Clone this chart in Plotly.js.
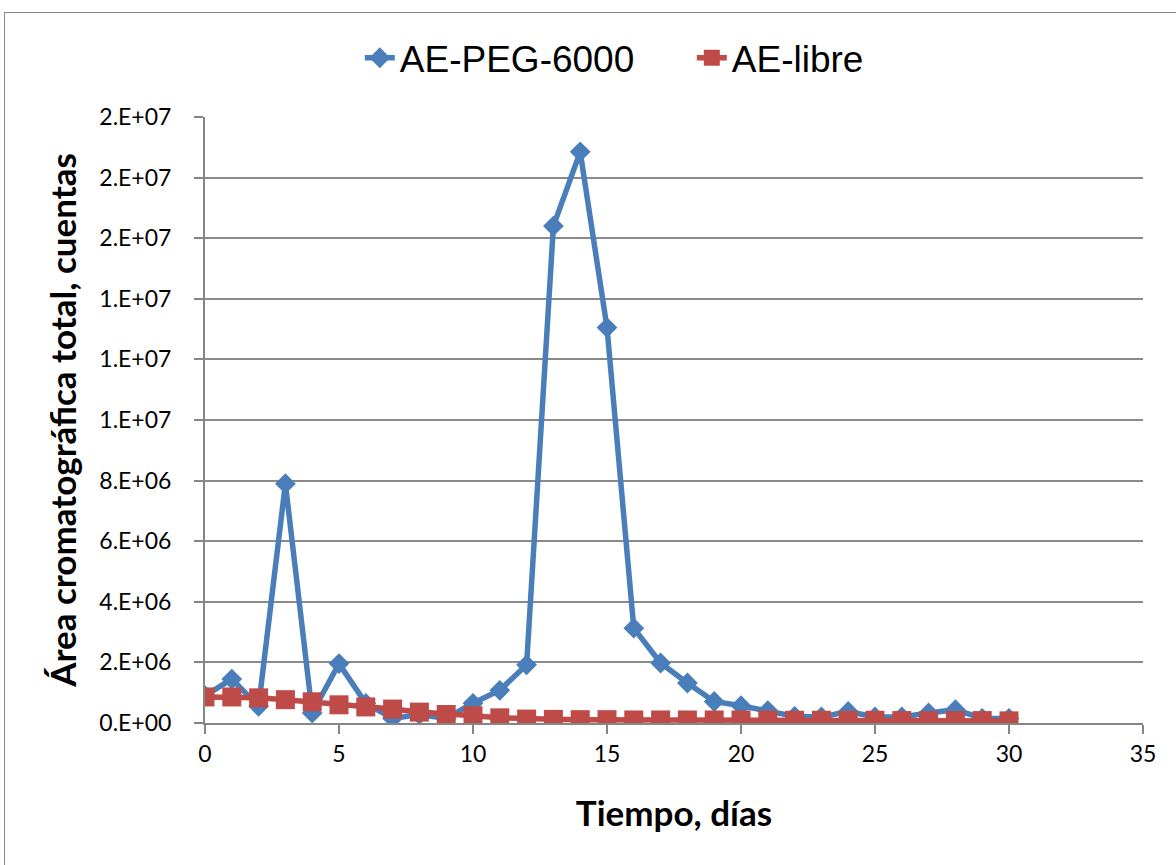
<!DOCTYPE html>
<html>
<head>
<meta charset="utf-8">
<script src="https://cdn.plot.ly/plotly-3.0.1.min.js"></script>
<style>
html,body{margin:0;padding:0;background:#fff;}
#frame{position:absolute;left:4px;top:12px;width:1180px;height:870px;border:1.5px solid #878787;box-sizing:border-box;}
#chart{position:absolute;left:0;top:0;width:1176px;height:865px;}
</style>
</head>
<body>
<div id="frame"></div>
<div id="chart"></div>
<script>
const days = [0,1,2,3,4,5,6,7,8,9,10,11,12,13,14,15,16,17,18,19,20,21,22,23,24,25,26,27,28,29,30];
const aePeg = [0.9e6,1.45e6,0.55e6,7.9e6,0.33e6,1.96e6,0.65e6,0.15e6,0.28e6,0.15e6,0.65e6,1.08e6,1.92e6,16.4e6,18.85e6,13.05e6,3.13e6,1.98e6,1.32e6,0.71e6,0.57e6,0.41e6,0.22e6,0.2e6,0.38e6,0.2e6,0.2e6,0.33e6,0.44e6,0.15e6,0.15e6];
const aeLibre = [0.86e6,0.86e6,0.83e6,0.77e6,0.7e6,0.6e6,0.53e6,0.46e6,0.36e6,0.28e6,0.24e6,0.17e6,0.13e6,0.12e6,0.11e6,0.11e6,0.1e6,0.1e6,0.1e6,0.1e6,0.1e6,0.1e6,0.09e6,0.09e6,0.09e6,0.09e6,0.08e6,0.08e6,0.08e6,0.08e6,0.07e6];
const yTickVals = [0,2e6,4e6,6e6,8e6,10e6,12e6,14e6,16e6,18e6,20e6];
const yTickText = ["0.E+00","2.E+06","4.E+06","6.E+06","8.E+06","1.E+07","1.E+07","1.E+07","2.E+07","2.E+07","2.E+07"];
const xTickVals = [0,5,10,15,20,25,30,35];

const tickFont = "Lato, 'Open Sans', sans-serif";
const legFont = "'Liberation Sans', Arial, sans-serif";
const traces = [
  {x: days, y: aePeg, name: "AE-PEG-6000", mode: "lines+markers",
   line: {color: "#4A7EBB", width: 5.5},
   marker: {symbol: "diamond", size: 16, color: "#4A7EBB"}},
  {x: days, y: aeLibre, name: "AE-libre", mode: "lines+markers",
   line: {color: "#BE4B48", width: 5.5},
   marker: {symbol: "square", size: 19, color: "#BE4B48"}}
];
const layout = {
  width: 1176, height: 865,
  paper_bgcolor: "rgba(0,0,0,0)", plot_bgcolor: "rgba(0,0,0,0)",
  margin: {l: 205, r: 33, t: 117, b: 142},
  font: {family: tickFont, color: "#000"},
  showlegend: true,
  legend: {orientation: "h", x: 0.519, xanchor: "center", y: 1.097, yanchor: "middle",
           entrywidth: 287,
           font: {size: 37, family: legFont}, traceorder: "normal"},
  xaxis: {range: [0, 35], tickvals: xTickVals, showgrid: false, zeroline: false,
          showline: true, linecolor: "#868686", linewidth: 2,
          ticks: "outside", ticklen: 9, tickcolor: "#868686", tickwidth: 2,
          tickfont: {size: 23, family: tickFont},
          title: {text: "Tiempo, días", font: {size: 35, family: tickFont, weight: "bold"}, standoff: 36}},
  yaxis: {range: [0, 2e7], tickvals: yTickVals, ticktext: yTickText,
          showgrid: true, gridcolor: "#8a8a8a", gridwidth: 2, zeroline: false,
          showline: true, linecolor: "#868686", linewidth: 2,
          ticks: "outside", ticklen: 9, tickcolor: "#868686", tickwidth: 2,
          ticklabelstandoff: 18,
          tickfont: {size: 23, family: tickFont},
          title: {text: "Área cromatográfica total, cuentas", font: {size: 35, family: tickFont, weight: "bold"}, standoff: 12}}
};
Plotly.newPlot("chart", traces, layout, {displayModeBar: false, responsive: false});
</script>
</body>
</html>
